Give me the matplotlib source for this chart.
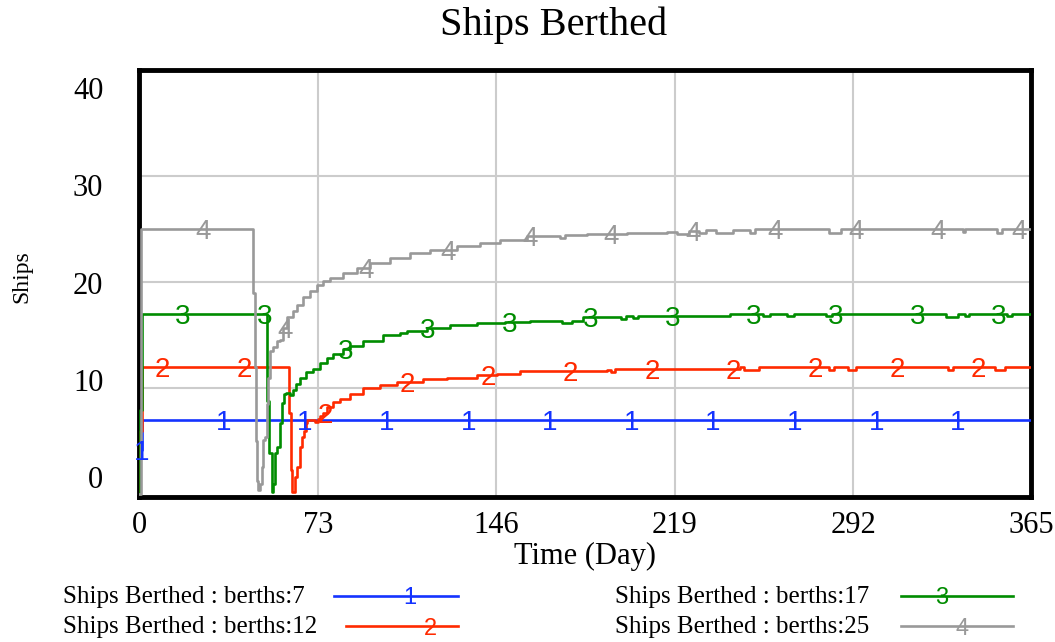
import numpy as np
import matplotlib
matplotlib.use('Agg')
import matplotlib.pyplot as plt
from matplotlib.lines import Line2D

# time (day) / ships berthed
t_b = [0, 0.3, 1.1, 365]
v_b = [0, 4.2, 7, 7]

t_r = [0, 0.3, 0.9, 61.2, 61.9, 62.5, 63.6, 64.4, 65.7, 66.5, 67.3, 68.1, 68.5, 71.8, 73.1,
       73.9, 75.1, 76.7, 79.2, 82.0, 86.1, 91.4, 98.4, 105.4, 116.0, 125.8, 138.1, 146.3,
       155.7, 168.0, 191.3, 193.0, 194.5, 202.0, 245.7, 247.5, 253.5, 282.0, 284.0, 290.0,
       293.0, 331.0, 333.0, 350.0, 354.0, 365]
v_r = [0, 6, 12, 7.7, 2.3, 0.2, 1.6, 2.6, 4.5, 5.4, 6.0, 6.7, 7.0, 6.8, 7.1,
       7.4, 7.7, 8.2, 8.7, 9.0, 9.5, 10.0, 10.3, 10.6, 10.9, 11.0, 11.3, 11.4,
       11.6, 11.6, 11.75, 11.5, 11.8, 11.85, 12.0, 11.75, 12.0, 11.75, 12.0, 11.75,
       12.0, 11.75, 12.0, 11.75, 12.0, 12.0]

t_g = [0, 0.4, 1.0, 52.0, 53.0, 54.1, 54.75, 55.4, 56.4, 57.5, 58.2, 59.1, 59.9, 61.6, 62.9,
       64.0, 65.7, 68.1, 71.0, 73.9, 76.7, 79.2, 83.3, 86.1, 91.4, 99.6, 106.6, 109.5, 117.6,
       127.1, 138.1, 149.6, 159.8, 173.0, 177.0, 181.5, 197.0, 199.0, 202.0, 204.0, 215.9,
       241.6, 255.0, 258.0, 265.0, 268.0, 281.0, 283.5, 330.0, 335.0, 338.0, 339.5, 355.0,
       357.0, 365]
v_g = [0, 8, 17, 8.8, 3.9, 0.2, 1.0, 3.9, 4.45, 6.7, 8.6, 9.5, 9.6, 9.4, 9.8,
       10.4, 11.0, 11.5, 11.8, 12.4, 12.9, 13.2, 13.7, 14.0, 14.5, 15.0, 15.2, 15.4, 15.7,
       15.95, 16.2, 16.3, 16.4, 16.2, 16.4, 16.7, 16.5, 16.8, 16.6, 16.85, 16.8,
       17.0, 16.8, 17.0, 16.8, 17.0, 16.8, 17.0, 16.7, 17.0, 16.8, 17.0, 16.8,
       17.0, 17.0]

t_k = [0, 0.8, 46.6, 47.2, 47.7, 48.2, 48.6, 49.3, 50.0, 50.5, 51.4, 52.0, 52.7, 53.4, 54.75,
       56.1, 57.5, 58.8, 60.2, 62.9, 64.3, 67.0, 69.8, 72.5, 75.2, 78.0, 83.4, 88.9, 94.3,
       102.5, 110.7, 118.9, 129.9, 139.3, 147.5, 158.6, 172.0, 174.0, 183.0, 199.5, 215.9,
       220.0, 225.0, 229.0, 232.0, 236.0, 242.9, 250.0, 252.0, 282.0, 287.0, 337.0, 338.0,
       351.0, 353.0, 365]
v_k = [0, 25, 19.0, 12.0, 5.0, 1.3, 0.4, 1.0, 2.6, 5.1, 5.4, 8.5, 11.0, 13.5, 13.9,
       14.5, 14.6, 15.7, 16.7, 17.3, 17.9, 18.6, 19.2, 19.8, 20.1, 20.4, 20.9, 21.4, 21.8,
       22.3, 22.8, 23.1, 23.4, 23.7, 24.0, 24.4, 24.2, 24.5, 24.6, 24.7, 24.8,
       24.6, 24.85, 24.7, 24.9, 24.7, 24.9, 24.7, 25.0, 24.7, 25.0, 24.8, 25.0,
       24.7, 25.0, 25.0]

labels = ['Ships Berthed : berths:7', 'Ships Berthed : berths:12',
          'Ships Berthed : berths:17', 'Ships Berthed : berths:25']
colors = ['#1433ff', '#ff2a00', '#008c00', '#999999']
x_ticks = [0, 73, 146, 219, 292, 365]
y_ticks = [0, 10, 20, 30, 40]

serif = 'Liberation Serif'
sans = 'Liberation Sans'

fig = plt.figure(figsize=(10.55, 6.42), dpi=100)
ax = fig.add_axes([0.1322, 0.2251, 0.8455, 0.6651])

series = [(t_b, v_b), (t_r, v_r), (t_g, v_g), (t_k, v_k)]
for i, (t, v) in enumerate(series):
    t = np.array(t)
    v = np.array(v)
    ax.plot(t, v, drawstyle='steps-post', color=colors[i], lw=1.9, zorder=3)
    # numbered markers every ~33 days, Vensim style
    tm = 0.9 + 8.4 * i + 33.4 * np.arange(11)
    tm = tm[tm <= 362]
    idx = np.searchsorted(t, tm, side='right') - 1
    for a, b in zip(tm, v[idx]):
        ax.text(a, b, str(i + 1), color=colors[i], fontsize=20, family=sans,
                ha='center', va='center_baseline', zorder=4)

ax.set_xlim(0, 365)
ax.set_ylim(-0.3, 40)
ax.set_xticks(x_ticks)
ax.set_xticklabels([str(x) for x in x_ticks], family=serif, fontsize=22)
# y labels sit a bit off the grid lines in the original
ax.set_yticks([v * 0.919 + 1.6 for v in y_ticks])
ax.set_yticklabels([str(v) for v in y_ticks], family=serif, fontsize=22)
ax.set_yticks([10, 20, 30], minor=True)
ax.tick_params(axis='both', which='both', length=0)
ax.tick_params(axis='y', pad=26)
ax.tick_params(axis='x', pad=10)
ax.grid(axis='x', which='major', color='#cccccc', lw=1.5)
ax.grid(axis='y', which='minor', color='#cccccc', lw=1.5)
for s in ax.spines.values():
    s.set_linewidth(3.5)
    s.set_color('black')

fig.text(0.525, 0.961, 'Ships Berthed', family=serif, fontsize=29, ha='center', va='center')
fig.text(0.5545, 0.134, 'Time (Day)', family=serif, fontsize=22, ha='center', va='center')
fig.text(0.021, 0.5685, 'Ships', family=serif, fontsize=17, rotation=90, ha='center', va='center')

# legend
leg_text = [(0.0597, 0.0701), (0.0597, 0.0234), (0.583, 0.0701), (0.583, 0.0234)]
leg_line = [(0.3166, 0.4341, 0.0717), (0.328, 0.4341, 0.0249),
            (0.854, 0.960, 0.0717), (0.854, 0.960, 0.0249)]
leg_num = [0.3886, 0.4076, 0.8929, 0.9118]
for i in range(4):
    fig.text(leg_text[i][0], leg_text[i][1], labels[i], family=serif, fontsize=18,
             ha='left', va='center')
    x0, x1, y = leg_line[i]
    fig.add_artist(Line2D([x0, x1], [y, y], color=colors[i], lw=1.9))
    fig.text(leg_num[i], y, str(i + 1), color=colors[i], family=sans, fontsize=17,
             ha='center', va='center_baseline')

plt.savefig('out.png', dpi=100)
